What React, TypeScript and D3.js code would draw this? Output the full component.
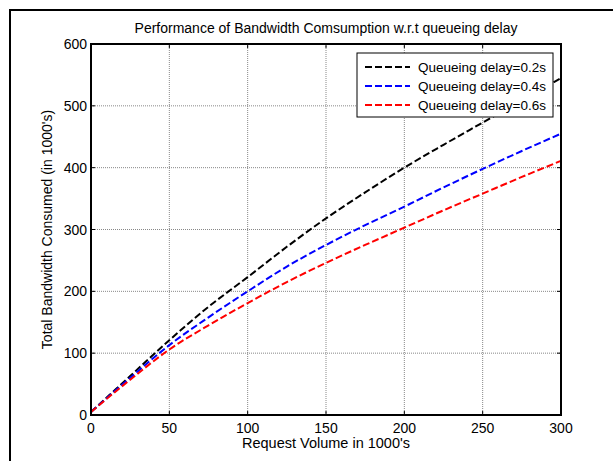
import React, { useEffect, useRef } from 'react'
import * as d3 from 'd3'

const volume = [0, 25, 50, 75, 100, 125, 150, 175, 200, 225, 250, 275, 300]
const delay02 = [5, 63, 121, 175, 223, 272, 318, 360, 400, 437, 473, 509, 545]
const delay04 = [5, 60, 113, 158, 200, 240, 275, 307, 337, 368, 398, 427, 455]
const delay06 = [5, 57, 106, 145, 181, 215, 246, 275, 303, 331, 358, 385, 411]
const seriesNames = ['Queueing delay=0.2s', 'Queueing delay=0.4s', 'Queueing delay=0.6s']
const seriesColors = ['#000000', '#0000ff', '#ff0000']
const xTicks = [0, 50, 100, 150, 200, 250, 300]
const yTicks = [0, 100, 200, 300, 400, 500, 600]

export default function App() {
  const ref = useRef<SVGSVGElement>(null)

  useEffect(() => {
    const svg = d3.select(ref.current)
    svg.selectAll('*').remove()
    const W = 613, H = 461
    const left = 91, right = 561, top = 44, bottom = 415
    const font = 'Liberation Sans, Arial, sans-serif'

    svg.append('rect').attr('width', W).attr('height', H).attr('fill', '#fff')
    // figure frame
    svg.append('rect').attr('x', 10).attr('y', 10).attr('width', 640).attr('height', 480)
      .attr('fill', 'none').attr('stroke', '#000').attr('stroke-width', 2)

    const x = d3.scaleLinear().domain([0, 300]).range([left, right])
    const y = d3.scaleLinear().domain([0, 600]).range([bottom, top])

    // grid
    const grid = svg.append('g').attr('stroke', '#888').attr('stroke-width', 1).attr('stroke-dasharray', '1,1')
    xTicks.slice(1, -1).forEach(t => {
      grid.append('line').attr('x1', x(t)).attr('x2', x(t)).attr('y1', top).attr('y2', bottom)
    })
    yTicks.slice(1, -1).forEach(t => {
      grid.append('line').attr('x1', left).attr('x2', right).attr('y1', y(t)).attr('y2', y(t))
    })

    // ticks (inward, all sides)
    const tk = svg.append('g').attr('stroke', '#000').attr('stroke-width', 1)
    xTicks.forEach(t => {
      tk.append('line').attr('x1', x(t)).attr('x2', x(t)).attr('y1', bottom).attr('y2', bottom - 4)
      tk.append('line').attr('x1', x(t)).attr('x2', x(t)).attr('y1', top).attr('y2', top + 4)
    })
    yTicks.forEach(t => {
      tk.append('line').attr('x1', left).attr('x2', left + 4).attr('y1', y(t)).attr('y2', y(t))
      tk.append('line').attr('x1', right).attr('x2', right - 4).attr('y1', y(t)).attr('y2', y(t))
    })

    // data lines
    const series = [delay02, delay04, delay06]
    const line = d3.line<number>().x((d, i) => x(volume[i])).y(d => y(d)).curve(d3.curveMonotoneX)
    series.forEach((s, k) => {
      svg.append('path').attr('d', line(s)).attr('fill', 'none')
        .attr('stroke', seriesColors[k]).attr('stroke-width', 2).attr('stroke-dasharray', '7,3')
    })

    // axes box
    svg.append('rect').attr('x', left).attr('y', top).attr('width', right - left).attr('height', bottom - top)
      .attr('fill', 'none').attr('stroke', '#000').attr('stroke-width', 2)

    // tick labels
    xTicks.forEach(t => {
      svg.append('text').attr('x', x(t)).attr('y', bottom + 18).attr('text-anchor', 'middle')
        .attr('font-family', font).attr('font-size', 14).text(t)
    })
    yTicks.forEach(t => {
      svg.append('text').attr('x', left - 4).attr('y', y(t) + 5).attr('text-anchor', 'end')
        .attr('font-family', font).attr('font-size', 14).text(t)
    })

    // labels
    svg.append('text').attr('x', (left + right) / 2).attr('y', 33).attr('text-anchor', 'middle')
      .attr('font-family', font).attr('font-size', 14).text('Performance of Bandwidth Comsumption w.r.t queueing delay')
    svg.append('text').attr('x', (left + right) / 2).attr('y', 448).attr('text-anchor', 'middle')
      .attr('font-family', font).attr('font-size', 14.5).text("Request Volume in 1000's")
    svg.append('text').attr('transform', `translate(52,${(top + bottom) / 2}) rotate(-90)`)
      .attr('text-anchor', 'middle').attr('font-family', font).attr('font-size', 14)
      .text("Total Bandwidth Consumed (in 1000's)")

    // legend
    const lg = svg.append('g')
    lg.append('rect').attr('x', 357).attr('y', 53).attr('width', 196).attr('height', 64)
      .attr('fill', '#fff').attr('stroke', '#000').attr('stroke-width', 1)
    seriesNames.forEach((n, k) => {
      const ly = 67 + k * 19
      lg.append('line').attr('x1', 365).attr('x2', 410).attr('y1', ly).attr('y2', ly)
        .attr('stroke', seriesColors[k]).attr('stroke-width', 2).attr('stroke-dasharray', '7,3')
      lg.append('text').attr('x', 418).attr('y', ly + 5).attr('font-family', font).attr('font-size', 13.5).text(n)
    })
  }, [])

  return <svg ref={ref} width={613} height={461} style={{ position: 'absolute', left: 0, top: 0 }} />
}
